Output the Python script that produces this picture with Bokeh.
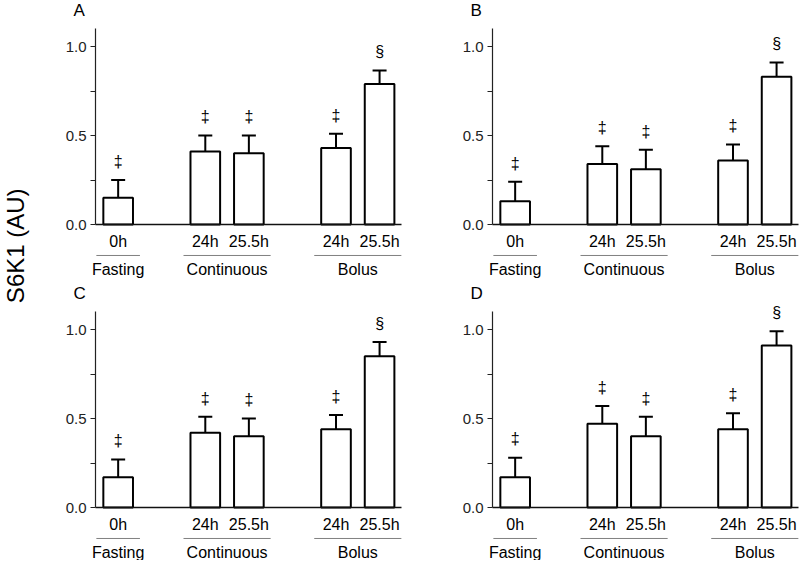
import math
from bokeh.plotting import figure
from bokeh.layouts import row, column
from bokeh.models import (Range1d, FixedTicker, PrintfTickFormatter,
                          ColumnDataSource, Whisker, TeeHead)
from bokeh.embed import file_html
from bokeh.resources import INLINE
from bokeh.core.properties import value

# ---------------- data ----------------
groups = ["Fasting", "Continuous", "Continuous", "Bolus", "Bolus"]
times = ["0h", "24h", "25.5h", "24h", "25.5h"]
group_names = ["Fasting", "Continuous", "Bolus"]
marks = ["\u2021", "\u2021", "\u2021", "\u2021", "\u00a7"]
panel_labels = ["A", "B", "C", "D"]

mean_A = [0.15, 0.41, 0.40, 0.43, 0.79]
sem_A = [0.10, 0.09, 0.10, 0.08, 0.075]
mean_B = [0.13, 0.34, 0.31, 0.36, 0.83]
sem_B = [0.11, 0.10, 0.11, 0.09, 0.08]
mean_C = [0.17, 0.42, 0.40, 0.44, 0.85]
sem_C = [0.10, 0.09, 0.10, 0.08, 0.08]
mean_D = [0.17, 0.47, 0.40, 0.44, 0.91]
sem_D = [0.11, 0.10, 0.11, 0.09, 0.08]

y_ticks = [0.0, 0.5, 1.0]
y_minor_ticks = [0.25, 0.75]
y_label = "S6K1 (AU)"

# ---------------- style / layout ----------------
FONT = "Liberation Sans"
KX = 43.57          # px per bar slot
KY = 178.0          # px per y unit
AXIS_X = -0.52      # y-axis position (in bar slots)
AXIS_TOP = 1.1
MARK_GAP = 0.105
UNDERLINE_Y = -0.174
GROUP_Y = -0.25
LABEL_Y = 1.202
LABEL_DX_PX = -22
BAR_W = 0.68

# bar positions: one slot per bar, one empty slot between groups
positions = []
_g_prev, _gi = None, -1
for _i, _g in enumerate(groups):
    if _g != _g_prev:
        _gi += 1
        _g_prev = _g
    positions.append(_i + _gi)
x_end_axis = max(positions) + 0.5


def make_panel(label, means, sems, frame_w, axis_offset_px, frame_h, y0_px):
    x_start = AXIS_X - axis_offset_px / KX
    x_end = x_start + frame_w / KX
    y_end = y0_px / KY
    y_start = -(frame_h - y0_px) / KY
    p = figure(x_range=Range1d(x_start, x_end), y_range=Range1d(y_start, y_end),
               frame_width=frame_w, frame_height=frame_h, min_border=0,
               toolbar_location=None, output_backend="svg")
    p.outline_line_color = None
    p.xgrid.grid_line_color = None
    p.ygrid.grid_line_color = None
    p.background_fill_color = "white"
    p.border_fill_color = "white"

    tops = [m + s for m, s in zip(means, sems)]
    src = ColumnDataSource(dict(x=positions, mean=means, top=tops, mark=marks,
                                mark_y=[t + MARK_GAP for t in tops]))

    p.vbar(x="x", top="mean", bottom=0, width=BAR_W, source=src,
           fill_color="white", line_color="black", line_width=2)
    p.add_layout(Whisker(base="x", lower="mean", upper="top", source=src,
                         dimension="height", line_color="black", line_width=2,
                         upper_head=TeeHead(size=14, line_color="black", line_width=2),
                         lower_head=None))
    p.text(x="x", y="mark_y", text="mark", source=src, text_align="center",
           text_baseline="middle", text_font=value(FONT), text_font_size="16px",
           text_color="black")

    # group underlines and group names
    gx0, gx1, gc = [], [], []
    for g in group_names:
        ps = [x for x, gg in zip(positions, groups) if gg == g]
        gx0.append(min(ps) - 0.5)
        gx1.append(max(ps) + 0.5)
        gc.append(sum(ps) / len(ps))
    gsrc = ColumnDataSource(dict(x0=gx0, x1=gx1, xc=gc, name=group_names,
                                 uy=[UNDERLINE_Y] * len(group_names),
                                 ty=[GROUP_Y] * len(group_names)))
    p.segment(x0="x0", y0="uy", x1="x1", y1="uy", source=gsrc,
              line_color="#808080", line_width=1)
    p.text(x="xc", y="ty", text="name", source=gsrc, text_align="center",
           text_baseline="middle", text_font=value(FONT), text_font_size="16px",
           text_color="black")

    # panel letter
    p.text(x=[AXIS_X + LABEL_DX_PX / KX], y=[LABEL_Y], text=[label], text_align="left",
           text_baseline="middle", text_font=value(FONT), text_font_size="17px",
           text_color="black")

    # x axis drawn at y = 0
    xa = p.xaxis[0]
    xa.fixed_location = 0
    xa.bounds = (AXIS_X, x_end_axis)
    xa.ticker = FixedTicker(ticks=positions, minor_ticks=[])
    xa.major_label_overrides = {x: t for x, t in zip(positions, times)}
    xa.axis_line_color = "#111111"
    xa.axis_line_width = 1.5
    xa.major_tick_line_color = None
    xa.major_tick_out = 0
    xa.major_tick_in = 0
    xa.minor_tick_line_color = None
    xa.major_label_standoff = 8
    xa.major_label_text_font = FONT
    xa.major_label_text_font_size = "16px"
    xa.major_label_text_color = "black"

    # y axis drawn at x = AXIS_X
    ya = p.yaxis[0]
    ya.fixed_location = AXIS_X
    ya.ticker = FixedTicker(ticks=y_ticks, minor_ticks=y_minor_ticks)
    ya.formatter = PrintfTickFormatter(format="%.1f")
    ya.bounds = (0, AXIS_TOP)
    ya.axis_line_color = "#222222"
    ya.axis_line_width = 1.2
    ya.major_tick_in = 0
    ya.major_tick_out = 5
    ya.minor_tick_in = 0
    ya.minor_tick_out = 5
    ya.major_tick_line_color = "#222222"
    ya.minor_tick_line_color = "#222222"
    ya.major_label_standoff = 4
    ya.major_label_text_font = FONT
    ya.major_label_text_font_size = "15px"
    ya.major_label_text_color = "#222222"
    return p


# left column: frame x 30..430, axis at 95 ; right column: 430..799, axis at 492
pA = make_panel(panel_labels[0], mean_A, sem_A, 400, 65, 283, 224)
pB = make_panel(panel_labels[1], mean_B, sem_B, 369, 62, 283, 224)
pC = make_panel(panel_labels[2], mean_C, sem_C, 400, 65, 277, 224)
pD = make_panel(panel_labels[3], mean_D, sem_D, 369, 62, 277, 224)

yl = figure(frame_width=30, frame_height=560, x_range=Range1d(0, 1), y_range=Range1d(0, 1),
            min_border=0, toolbar_location=None, output_backend="svg")
yl.axis.visible = False
yl.xgrid.grid_line_color = None
yl.ygrid.grid_line_color = None
yl.outline_line_color = None
yl.text(x=[0.5], y=[0.562], text=[y_label], angle=math.pi / 2, text_align="center",
        text_baseline="middle", text_font=value(FONT), text_font_size="24px",
        text_color="black")

layout = row(yl, column(row(pA, pB), row(pC, pD)))

with open("out.html", "w") as f:
    f.write(file_html(layout, INLINE))
